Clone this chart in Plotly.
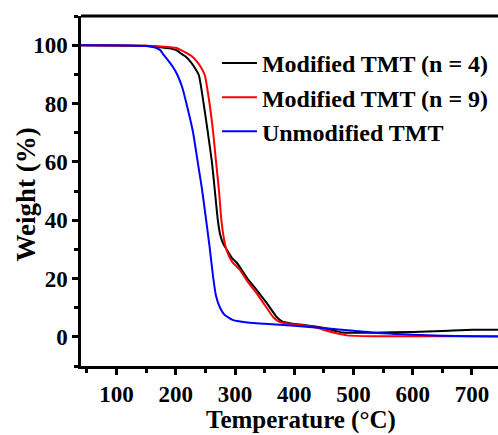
import plotly.graph_objects as go

# ---- data ----
t_black = [40, 150, 170, 190, 201, 209, 216, 223, 231, 239, 247, 254, 261, 266, 271, 275, 280, 286, 295, 303, 321, 336, 353, 370, 380, 397, 420, 448, 470, 482, 532, 600, 650, 701, 744]
w_black = [100, 99.8, 99.4, 98.9, 98.3, 97.1, 96.2, 94.8, 92.6, 89.7, 80, 70.3, 60, 50, 40, 35, 32, 29.9, 27, 25.4, 20, 16.2, 11.7, 6.9, 5.2, 4.5, 4.0, 3.1, 2.0, 1.5, 1.4, 1.7, 2.0, 2.4, 2.4]

t_red = [40, 150, 180, 200, 209, 220, 227, 234, 242, 249, 257, 263, 268, 273, 277, 281, 286, 295, 308, 321, 336, 350, 364, 372, 380, 400, 421, 440, 455, 470, 489, 532, 600, 744]
w_red = [100, 99.8, 99.5, 99.1, 98.3, 97.1, 96.2, 94.8, 92.6, 89.7, 80, 70.3, 60, 50, 40, 34, 29.5, 25.8, 23, 19, 15.1, 11, 6.9, 5.5, 4.8, 4.2, 3.8, 3.0, 2.1, 1.3, 0.5, 0.2, 0.2, 0.2]

t_blue = [40, 120, 150, 165, 174, 178, 187, 195, 203, 211, 218, 229, 237, 244, 250, 257, 263, 268, 274, 282, 296, 325, 350, 400, 450, 500, 550, 600, 650, 700, 744]
w_blue = [100, 99.9, 99.7, 99.2, 98.3, 97.1, 94.8, 92.6, 89.7, 85.5, 80, 70.3, 60, 51, 42, 31, 20.6, 14, 10.3, 7.6, 5.8, 4.8, 4.5, 3.8, 3.0, 2.1, 1.2, 0.7, 0.4, 0.2, 0.1]

names = ["Modified TMT (n = 4)", "Modified TMT (n = 9)", "Unmodified TMT"]
colors = ["#000000", "#ff0000", "#0000ff"]

FONT = "Liberation Serif"

fig = go.Figure()
for t, w, n, c in [(t_black, w_black, names[0], colors[0]),
                   (t_red, w_red, names[1], colors[1]),
                   (t_blue, w_blue, names[2], colors[2])]:
    fig.add_trace(go.Scatter(x=t, y=w, mode="lines", name=n,
                             line=dict(color=c, width=2, shape="spline", smoothing=0.5)))

axis_common = dict(
    showgrid=False, zeroline=False, showline=True, linecolor="black", linewidth=2.5,
    ticks="outside", ticklen=6, tickwidth=2.5, tickcolor="black",
    tickfont=dict(family=FONT, size=23, color="black", weight="bold"),
    minor=dict(ticks="outside", ticklen=4, tickwidth=2.5, tickcolor="black"),
)

fig.update_xaxes(range=[40, 744], dtick=100, tick0=0, minor_dtick=50, **axis_common)
fig.update_yaxes(range=[-10, 110], dtick=20, tick0=0, minor_dtick=10, **axis_common)

fig.add_shape(type="line", xref="paper", yref="paper", x0=0, x1=1, y0=1, y1=1,
              line=dict(color="black", width=3))

fig.add_annotation(text="Temperature (°C)", xref="paper", yref="paper", x=0.528, y=0,
                   yshift=-54, yanchor="middle", showarrow=False,
                   font=dict(family=FONT, size=25, color="black", weight="bold"))
fig.add_annotation(text="Weight (%)", xref="paper", yref="paper", x=0, xshift=-56, y=0.49,
                   textangle=-90, xanchor="center", showarrow=False,
                   font=dict(family=FONT, size=27, color="black", weight="bold"))

fig.update_layout(
    width=498, height=435,
    margin=dict(l=81, r=0, t=16, b=69, autoexpand=False),
    paper_bgcolor="white", plot_bgcolor="white",
    showlegend=True,
    legend=dict(x=0.326, y=0.929, xanchor="left", yanchor="top", itemwidth=35,
                bgcolor="rgba(0,0,0,0)",
                font=dict(family=FONT, size=24, color="black", weight="bold")),
)

fig.write_html("out.html")
